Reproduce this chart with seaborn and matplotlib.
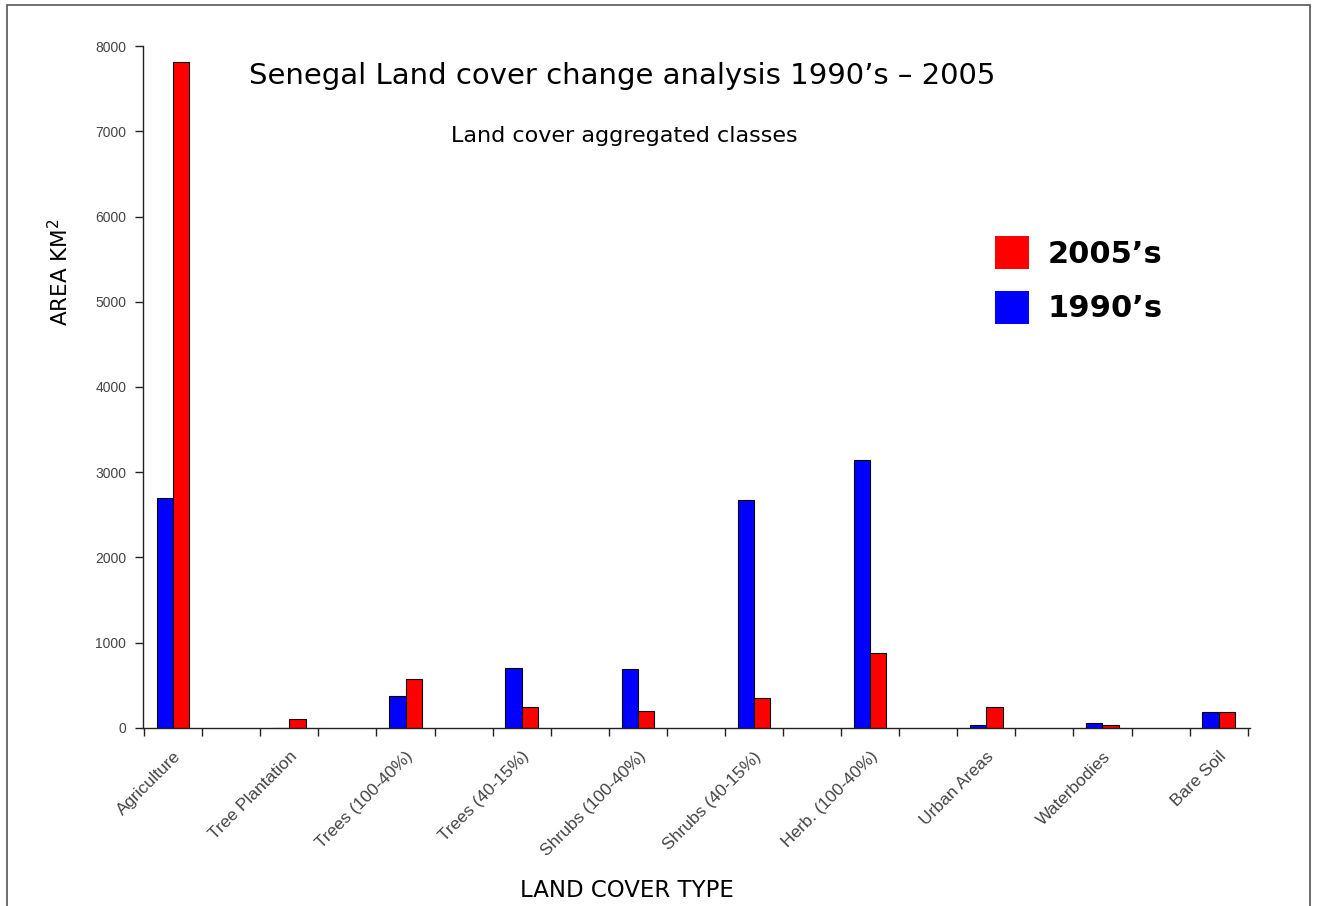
import pandas as pd
import numpy as np
import matplotlib
matplotlib.use("Agg")
import matplotlib.pyplot as plt
import seaborn as sns
from matplotlib.patches import Rectangle, Patch

sns.set_style("white")
plt.rcParams['font.family'] = ['DejaVu Sans']
plt.rcParams['text.color'] = 'black'

# data (km2)
cover_types = ['Agriculture', 'Tree Plantation', 'Trees (100-40%)', 'Trees (40-15%)',
               'Shrubs (100-40%)', 'Shrubs (40-15%)', 'Herb. (100-40%)', 'Urban Areas',
               'Waterbodies', 'Bare Soil']
area_1990 = [2700, 0, 376, 700, 690, 2680, 3140, 40, 55, 188]
area_2005 = [7810, 100, 580, 246, 196, 349, 880, 250, 40, 188]
periods = ['1990’s', '2005’s']
colors = {'1990’s': '#0000ff', '2005’s': '#ff0000'}
y_ticks = [0, 1000, 2000, 3000, 4000, 5000, 6000, 7000, 8000]

df = pd.DataFrame({
    'cover': cover_types * 2,
    'area': area_1990 + area_2005,
    'period': [periods[0]] * len(cover_types) + [periods[1]] * len(cover_types),
})

fig = plt.figure(figsize=(13.19, 9.06), dpi=100)
ax = fig.add_axes([0.1084, 0.1965, 0.8393, 0.7527])

sns.barplot(data=df, x='cover', y='area', hue='period', hue_order=periods,
            palette=colors, saturation=1, width=0.28, dodge=True, edgecolor='black',
            linewidth=0.8, ax=ax, legend=False)

ax.set_xlim(-0.26, 9.27)
ax.set_ylim(0, 8000)
ax.set_yticks(y_ticks)
ax.set_yticklabels([str(v) for v in y_ticks], fontsize=10, color='#444444',
                   family='Liberation Sans')
ax.tick_params(axis='y', direction='out', length=6, width=1, color='#222222', pad=6, left=True)

# labels at category centres, tick marks at the half positions
ax.set_xticks(range(len(cover_types)))
ax.set_xticklabels(cover_types, rotation=45, ha='right', va='top', rotation_mode='anchor',
                   fontsize=12.5, color='#444444', family='Liberation Sans')
ax.tick_params(axis='x', which='major', length=0, pad=15)
ax.set_xticks(np.arange(-0.25, 9.3, 0.5), minor=True)
ax.tick_params(axis='x', which='minor', direction='out', length=6, width=1,
               color='#222222', bottom=True)

for s in ['top', 'right']:
    ax.spines[s].set_visible(False)
for s in ['left', 'bottom']:
    ax.spines[s].set_color('#222222')
    ax.spines[s].set_linewidth(1)

ax.set_xlabel('')
ax.set_ylabel('')
ax.grid(False)

fig.text(0.0455, 0.70, 'AREA KM$^{2}$', rotation=90, ha='center', va='center', fontsize=15.5)
fig.text(0.475, 0.0175, 'LAND COVER TYPE', ha='center', va='center', fontsize=16.5)
fig.text(0.472, 0.916, 'Senegal Land cover change analysis 1990’s – 2005',
         ha='center', va='center', fontsize=21)
fig.text(0.473, 0.85, 'Land cover aggregated classes', ha='center', va='center', fontsize=16)

handles = [Patch(facecolor=colors['2005’s'], edgecolor='none', label='2005’s'),
           Patch(facecolor=colors['1990’s'], edgecolor='none', label='1990’s')]
ax.legend(handles=handles, loc='upper left', bbox_to_anchor=(0.745, 0.762), frameon=False,
          prop={'size': 22, 'weight': 'bold'}, handlelength=1.1, handleheight=1.3,
          handletextpad=0.6, labelspacing=0.7)

fig.patches.append(Rectangle((0.0053, -0.01), 0.988, 1.004, transform=fig.transFigure,
                             fill=False, edgecolor='#555555', linewidth=1.2))

fig.savefig('out.png', dpi=100)
